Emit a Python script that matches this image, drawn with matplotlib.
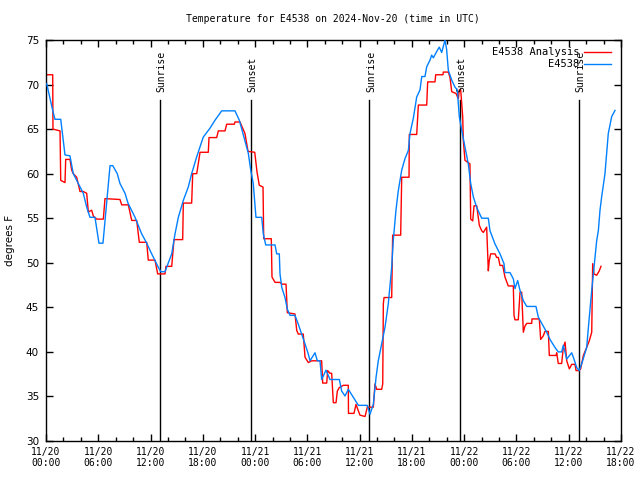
import matplotlib
matplotlib.use("Agg")
import matplotlib.pyplot as plt
import numpy as np

# hours since 11/20 00:00 UTC
analysis_hours = [0.08, 0.77, 0.80, 1.61, 1.69, 2.18, 2.26, 2.75, 2.95, 3.13, 3.52, 3.90, 4.28, 4.67,
                  4.86, 5.24, 5.43, 5.82, 6.58, 6.77, 8.49, 8.69, 9.45, 9.84, 10.41, 10.71, 11.56,
                  11.74, 12.51, 12.82, 13.66, 13.77, 14.43, 14.69, 15.69, 15.76, 16.72, 16.84, 17.30,
                  17.68, 18.63, 18.71, 19.59, 19.78, 20.55, 20.74, 21.61, 21.69, 22.27, 22.84, 23.19,
                  23.96, 24.22, 24.48, 24.91, 24.99, 25.86, 25.94, 26.29, 26.86, 27.09, 27.55, 27.70,
                  28.58, 28.78, 28.96, 29.53, 29.73, 30.11, 30.50, 31.64, 31.76, 32.22, 32.33, 32.60,
                  32.79, 32.98, 33.29, 33.44, 33.67, 34.13, 34.70, 34.72, 35.35, 35.58, 36.04, 36.62,
                  36.88, 37.57, 37.76, 37.96, 38.53, 38.65, 38.72, 38.80, 39.68, 39.79, 40.71, 40.83,
                  41.67, 41.70, 42.55, 42.74, 43.70, 43.81, 44.65, 44.73, 45.57, 45.60, 46.18, 46.37,
                  46.57, 47.06, 47.33, 47.44, 47.60, 47.83, 47.90, 48.09, 48.66, 48.75, 48.98, 49.13,
                  49.44, 49.74, 50.01, 50.20, 50.58, 50.77, 50.88, 51.04, 51.54, 51.73, 51.92, 52.11,
                  52.42, 52.68, 53.06, 53.64, 53.72, 53.83, 54.21, 54.27, 54.41, 54.60, 54.79, 54.98,
                  55.18, 55.75, 55.78, 56.62, 56.78, 57.08, 57.27, 57.66, 57.77, 58.54, 58.62, 58.80,
                  59.19, 59.38, 59.58, 59.77, 60.07, 60.34, 60.72, 60.84, 61.18, 61.37, 61.68, 62.06,
                  62.36, 62.64, 62.75, 62.90, 63.21, 63.51, 63.70]
analysis_temp = [71.1, 71.1, 65.0, 64.8, 59.25, 59.0, 61.6, 61.6, 60.4, 60.0, 59.6, 58.0, 58.0, 57.8,
                 55.7, 55.9, 55.25, 54.9, 54.9, 57.2, 57.1, 56.5, 56.5, 54.75, 54.75, 52.3, 52.3,
                 50.3, 50.3, 48.75, 48.75, 49.6, 49.6, 52.6, 52.6, 56.7, 56.7, 60.0, 60.0,
                 62.4, 62.4, 64.05, 64.05, 64.8, 64.8, 65.55, 65.55, 65.8, 65.8, 64.5, 62.5,
                 62.4, 60.2, 58.7, 58.5, 52.7, 52.7, 48.4, 47.8, 47.8, 47.6, 47.6, 44.4,
                 44.25, 42.4, 42.0, 42.0, 39.4, 38.8, 39.0, 39.0, 36.5, 36.5, 37.9, 37.6,
                 37.6, 34.3, 34.3, 35.6, 36.0, 36.25, 36.25, 33.1, 33.1, 34.1, 32.9, 32.75,
                 33.8, 33.8, 36.4, 35.8, 35.8, 36.4, 45.4, 46.1, 46.1, 53.1, 53.1, 59.6,
                 59.6, 64.4, 64.4, 67.7, 67.7, 70.3, 70.3, 71.1, 71.1, 71.4, 71.4, 70.8,
                 69.2, 69.0, 68.4, 69.4, 69.4, 66.4, 63.75, 61.5, 61.1, 54.9, 54.7, 56.4,
                 56.4, 54.2, 53.6, 53.4, 54.0, 49.1, 50.25, 51.0, 51.0, 50.6, 50.6, 49.7,
                 49.7, 48.4, 47.4, 47.4, 44.1, 43.6, 43.6, 44.5, 46.7, 46.7, 42.2, 42.9,
                 43.2, 43.2, 43.7, 43.7, 41.4, 41.8, 42.3, 42.3, 39.6, 39.6, 39.9, 38.7,
                 38.7, 40.5, 41.1, 39.0, 38.1, 38.6, 38.6, 37.9, 37.9, 38.1, 39.6, 40.5,
                 41.25, 42.2, 49.9, 48.75, 48.6, 49.1, 49.6]

obs_hours = [0.08, 0.77, 1.03, 1.69, 2.18, 2.75, 3.13, 3.71, 4.28, 4.67, 5.05, 5.62, 6.08, 6.54,
             7.35, 7.66, 8.18, 8.49, 9.07, 9.41, 10.22, 10.98, 11.56, 12.13, 12.89, 13.17, 13.66,
             14.43, 14.81, 15.19, 15.76, 16.33, 16.72, 17.30, 18.05, 18.82, 19.40, 20.17, 21.69,
             22.19, 23.22, 23.50, 23.79, 24.10, 24.76, 24.94, 25.22, 26.29, 26.48, 26.78, 26.86,
             27.06, 27.43, 27.70, 28.01, 28.58, 28.96, 29.35, 29.73, 30.11, 30.30, 30.88, 31.14,
             31.45, 31.64, 32.14, 32.60, 33.67, 33.94, 34.32, 34.70, 35.09, 35.47, 35.85, 36.88,
             37.19, 37.57, 37.88, 38.14, 38.53, 38.91, 39.29, 39.68, 39.86, 40.17, 40.44, 40.83,
             41.21, 41.59, 41.78, 42.16, 42.55, 42.93, 43.13, 43.50, 43.70, 44.08, 44.27, 44.46,
             44.84, 45.14, 45.42, 45.80, 45.99, 46.18, 46.57, 46.95, 47.21, 47.44, 47.71, 48.09,
             48.47, 48.75, 49.05, 49.44, 50.01, 50.77, 50.96, 51.54, 52.11, 52.57, 52.68, 53.26,
             53.64, 53.83, 54.14, 54.41, 54.79, 55.18, 56.24, 56.51, 57.08, 57.47, 57.85, 58.42,
             58.80, 59.19, 59.38, 59.77, 60.34, 60.60, 60.91, 61.21, 61.60, 62.06, 62.36, 62.64,
             62.90, 63.21, 63.40, 63.59, 63.78, 64.16, 64.54, 64.93, 65.31]
obs_temp = [70.1, 67.1, 66.1, 66.1, 62.1, 62.0, 60.0, 58.9, 57.8, 56.25, 55.1, 55.1, 52.2, 52.2,
            60.9, 60.9, 60.0, 58.9, 57.8, 56.7, 55.1, 53.25, 52.2, 51.0, 49.5, 49.0, 49.0,
            51.0, 53.25, 55.1, 57.0, 58.5, 60.0, 61.9, 64.1, 65.1, 66.0, 67.05, 67.05,
            66.0, 62.3, 60.4, 58.9, 55.1, 55.1, 53.25, 52.0, 52.0, 51.0, 51.0, 48.75,
            47.25, 46.1, 44.8, 44.1, 44.1, 43.1, 42.0, 40.9, 39.75, 39.0, 39.9, 39.0,
            39.0, 36.9, 37.95, 36.9, 36.9, 35.6, 35.05, 35.8, 35.2, 34.6, 34.0, 34.0,
            33.0, 34.1, 37.1, 39.0, 40.9, 42.75, 45.4, 49.5, 52.5, 55.9, 58.1, 60.4,
            61.7, 62.6, 64.5, 66.2, 68.6, 69.4, 70.9, 70.9, 72.0, 72.75, 73.3, 73.0,
            73.7, 74.2, 73.6, 75.0, 73.9, 71.6, 70.5, 69.7, 69.4, 66.4, 64.9, 63.0,
            61.1, 58.9, 57.4, 56.2, 55.0, 55.0, 53.6, 52.1, 51.0, 49.9, 48.9, 48.9,
            48.2, 47.1, 48.0, 46.9, 45.75, 45.1, 45.1, 43.9, 42.9, 42.2, 41.4, 40.5,
            40.0, 40.0, 40.75, 39.2, 39.9, 39.2, 38.25, 37.9, 39.0, 40.5, 43.9, 46.9,
            49.5, 52.5, 53.6, 55.9, 57.4, 60.0, 64.5, 66.4, 67.1]

sun_hours = [13.10, 23.48, 37.12, 47.52, 61.18]
sun_labels = ["Sunrise", "Sunset", "Sunrise", "Sunset", "Sunrise"]

xtick_hours = [0, 6, 12, 18, 24, 30, 36, 42, 48, 54, 60, 66]
xtick_labels = ["11/20\n00:00", "11/20\n06:00", "11/20\n12:00", "11/20\n18:00",
                "11/21\n00:00", "11/21\n06:00", "11/21\n12:00", "11/21\n18:00",
                "11/22\n00:00", "11/22\n06:00", "11/22\n12:00", "11/22\n18:00"]

mono = "DejaVu Sans Mono"

fig = plt.figure(figsize=(6.4, 4.8), dpi=100)
ax = fig.add_axes([46 / 640, 1 - 441 / 480, 575 / 640, 401 / 480])

for h, lab in zip(sun_hours, sun_labels):
    ax.plot([h, h], [30, 68.3], color="black", lw=1.0, zorder=1)
    ax.text(h + 0.2, 69.2, lab, rotation=90, ha="center", va="bottom",
            fontsize=7, family=mono)

ax.plot(analysis_hours, analysis_temp, color="#ff0000", lw=1.0, label="E4538 Analysis", zorder=2)
ax.plot(obs_hours, obs_temp, color="#0080ff", lw=1.0, label="E4538", zorder=3)

ax.set_xlim(0, 66)
ax.set_ylim(30, 75)
ax.set_xticks(xtick_hours)
ax.set_xticklabels(xtick_labels, family=mono, fontsize=7)
ax.set_xticks(np.arange(0, 67, 2), minor=True)
ax.set_yticks(np.arange(30, 76, 5))
ax.tick_params(axis="y", labelsize=7.5, direction="in", length=5, width=1,
               right=True, pad=5)
ax.tick_params(axis="x", which="major", direction="in", length=5, width=1,
               top=True, pad=4)
ax.tick_params(axis="x", which="minor", direction="in", length=3, width=1, top=True)
ax.set_ylabel("degrees F", fontsize=7.5, labelpad=8)
for s in ax.spines.values():
    s.set_linewidth(1.0)

fig.text(333 / 640, 1 - 19 / 480, "Temperature for E4538 on 2024-Nov-20 (time in UTC)",
         ha="center", va="center", fontsize=7, family=mono)

ax.legend(loc="upper right", bbox_to_anchor=(0.995, 1.0), frameon=False, markerfirst=False,
          handlelength=2.6, handletextpad=0.4, labelspacing=0.2, borderaxespad=0.3,
          prop={"family": mono, "size": 7.5})

fig.savefig("out.png", dpi=100)
